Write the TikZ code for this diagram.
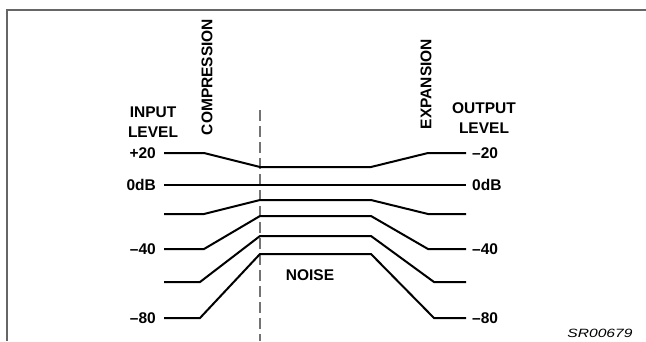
\documentclass[tikz,border=0pt]{standalone}
\usepackage{fontspec}
\setmainfont{Liberation Sans}

\tikzset{courbe/.style = {line width=2pt, line join=miter},
         etiq/.style = {font=\fontsize{15.5}{20}\selectfont\bfseries, inner sep=0pt, align=center},
         cadre/.style = {draw=black!60, line width=1.4pt},
         seuil/.style = {draw=black!55, line width=1.3pt, dash pattern=on 11pt off 5pt}
        }

\begin{document}
\begin{tikzpicture}[x=1pt, y=-1pt]
  \useasboundingbox (0,0) rectangle (646,341);
  \draw[cadre] (7,341) -- (7,10) -- (646,10);

  % threshold
  \coordinate (s1) at (260,110);
  \coordinate (s2) at (260,341);
  \draw[seuil] (s1) -- (s2);

  % level lines: number / left y / left bend x / middle y / right bend x
  \foreach \i/\yl/\xl/\ym/\xr in {1/153/204/167/428, 2/185/204/185/428,
                                  3/214/204/200/428, 4/249/204/216/428,
                                  5/282/200/236/434, 6/318/200/254/434}
  {
    \coordinate (a\i) at (164,\yl);
    \coordinate (b\i) at (466,\yl);
    \draw[courbe] (a\i) -- (\xl,\yl) -- (260,\ym) -- (371,\ym) -- (\xr,\yl) -- (b\i);
  }

  \node[etiq, anchor=east] (in20) at (156,153) {+20};
  \node[etiq, anchor=east] (in0)  at (156,185) {0dB};
  \node[etiq, anchor=east] (in40) at (156,249) {–40};
  \node[etiq, anchor=east] (in80) at (156,318) {–80};

  \node[etiq, anchor=west] (out20) at (472,153) {–20};
  \node[etiq, anchor=west] (out0)  at (472,185) {0dB};
  \node[etiq, anchor=west] (out40) at (472,249) {–40};
  \node[etiq, anchor=west] (out80) at (472,318) {–80};

  \node[etiq] (input)  at (153,122) {INPUT\\LEVEL};
  \node[etiq] (output) at (484,118) {OUTPUT\\LEVEL};
  \node[etiq, rotate=90] (comp) at (207,77) {COMPRESSION};
  \node[etiq, rotate=90] (exp)  at (426,84) {EXPANSION};
  \node[etiq] (noise) at (310,275) {NOISE};
  \node[font=\fontsize{12}{14}\selectfont\itshape, inner sep=0pt, xscale=1.3] (ref) at (600,333) {SR00679};
\end{tikzpicture}
\end{document}
